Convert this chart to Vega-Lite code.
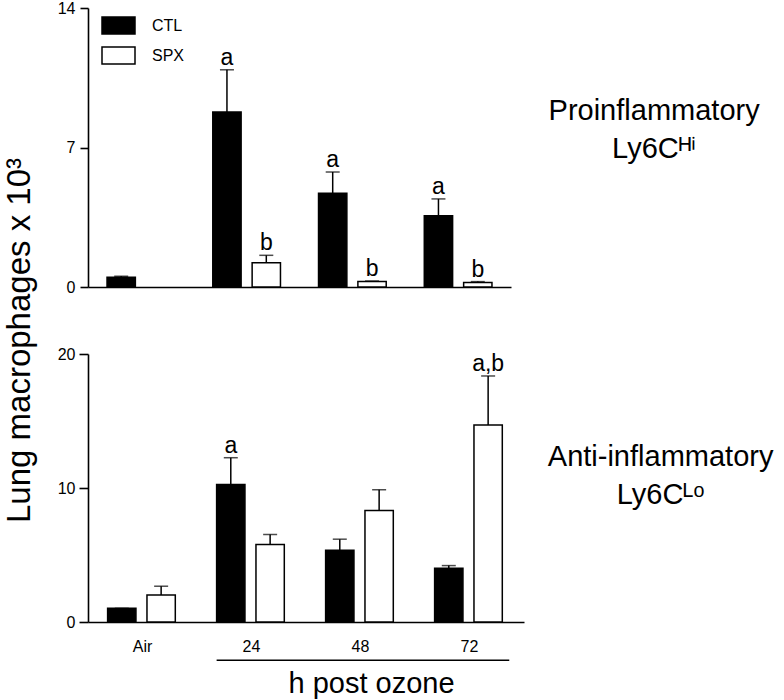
{
  "$schema": "https://vega.github.io/schema/vega-lite/v6.json",
  "background": "white",
  "padding": {"left": 3, "top": 0, "right": 5, "bottom": 5},
  "datasets": {
    "hi": [
      {"time": "Air", "group": "CTL", "mean": 0.49, "upper": 0.54, "letter": ""},
      {"time": "24", "group": "CTL", "mean": 8.78, "upper": 10.9, "letter": "a"},
      {"time": "24", "group": "SPX", "mean": 1.22, "upper": 1.59, "letter": "b"},
      {"time": "48", "group": "CTL", "mean": 4.7, "upper": 5.77, "letter": "a"},
      {"time": "48", "group": "SPX", "mean": 0.27, "upper": 0.3, "letter": "b"},
      {"time": "72", "group": "CTL", "mean": 3.58, "upper": 4.42, "letter": "a"},
      {"time": "72", "group": "SPX", "mean": 0.22, "upper": 0.27, "letter": "b"}
    ],
    "lo": [
      {"time": "Air", "group": "CTL", "mean": 1.02, "upper": 1.02, "letter": ""},
      {"time": "Air", "group": "SPX", "mean": 2.02, "upper": 2.67, "letter": ""},
      {"time": "24", "group": "CTL", "mean": 10.26, "upper": 12.26, "letter": "a"},
      {"time": "24", "group": "SPX", "mean": 5.78, "upper": 6.53, "letter": ""},
      {"time": "48", "group": "CTL", "mean": 5.36, "upper": 6.18, "letter": ""},
      {"time": "48", "group": "SPX", "mean": 8.32, "upper": 9.87, "letter": ""},
      {"time": "72", "group": "CTL", "mean": 4.01, "upper": 4.21, "letter": ""},
      {"time": "72", "group": "SPX", "mean": 14.7, "upper": 18.36, "letter": "a,b"}
    ],
    "bracket": [{"start": "24", "end": "72", "level": -2.85}]
  },
  "config": {
    "view": {"stroke": null},
    "font": "Liberation Sans",
    "axis": {
      "grid": false,
      "domainColor": "black", "domainWidth": 1.6,
      "tickColor": "black", "tickWidth": 1.6,
      "labelColor": "black", "labelFont": "Liberation Sans", "labelFontSize": 16,
      "titleColor": "black", "titleFont": "Liberation Sans", "titleFontWeight": "normal"
    },
    "title": {"color": "black", "font": "Liberation Sans", "fontWeight": "normal"}
  },
  "spacing": 67,
  "bounds": "flush",
  "resolve": {
    "scale": {"color": "independent", "fill": "independent", "x": "independent", "y": "independent"},
    "legend": {"fill": "independent"}
  },
  "vconcat": [
    {
      "width": 423,
      "height": 279,
      "title": {
        "text": ["Proinflammatory", "Ly6Cᴴⁱ"],
        "orient": "right", "angle": 0, "anchor": "middle", "align": "center", "baseline": "middle",
        "fontSize": 29, "lineHeight": 38, "offset": -68, "dy": -37
      },
      "data": {"name": "hi"},
      "layer": [
        {
          "mark": {"type": "bar", "stroke": "black", "strokeWidth": 1.5},
          "encoding": {
            "x": {"field": "time", "type": "nominal", "sort": ["Air", "24", "48", "72"],
              "scale": {"domain": ["Air", "24", "48", "72"], "paddingInner": 0.36, "paddingOuter": 0.18},
              "axis": {"labels": false, "ticks": false, "title": null, "domain": true}},
            "xOffset": {"field": "group", "type": "nominal", "scale": {"domain": ["CTL", "SPX"], "paddingInner": 0.28}},
            "y": {"field": "mean", "type": "quantitative", "scale": {"domain": [0, 14], "nice": false},
              "title": "Lung macrophages x 10³",
              "axis": {"values": [0, 7, 14], "tickSize": 8, "labelPadding": 5, "labelFontSize": 16,
                "titleFontSize": 33, "titleX": -59, "titleY": 332,
                "titleAngle": 270, "titleBaseline": "alphabetic", "titleAlign": "center"}},
            "fill": {"field": "group", "type": "nominal",
              "scale": {"domain": ["CTL", "SPX"], "range": ["black", "white"]},
              "legend": {"title": null, "orient": "none", "legendX": 13, "legendY": 0, "padding": 0,
                "symbolType": "M-1,-0.52H1V0.52H-1Z", "symbolSize": 1089,
                "symbolStrokeColor": "black", "symbolStrokeWidth": 1.5,
                "labelFontSize": 16, "labelFont": "Liberation Sans", "labelColor": "black",
                "labelOffset": 16, "rowPadding": 0}}
          }
        },
        {
          "mark": {"type": "rule", "color": "black", "strokeWidth": 1.5},
          "encoding": {
            "x": {"field": "time", "type": "nominal"},
            "xOffset": {"field": "group", "type": "nominal"},
            "y": {"field": "mean", "type": "quantitative", "title": "Lung macrophages x 10³"},
            "y2": {"field": "upper"}
          }
        },
        {
          "mark": {"type": "tick", "color": "black", "thickness": 1.5, "size": 14},
          "encoding": {
            "x": {"field": "time", "type": "nominal"},
            "xOffset": {"field": "group", "type": "nominal"},
            "y": {"field": "upper", "type": "quantitative", "title": "Lung macrophages x 10³"}
          }
        },
        {
          "mark": {"type": "text", "baseline": "alphabetic", "dy": -5, "fontSize": 23, "color": "black", "font": "Liberation Sans"},
          "encoding": {
            "x": {"field": "time", "type": "nominal"},
            "xOffset": {"field": "group", "type": "nominal"},
            "y": {"field": "upper", "type": "quantitative", "title": "Lung macrophages x 10³"},
            "text": {"field": "letter"}
          }
        }
      ]
    },
    {
      "width": 436,
      "height": 268,
      "title": {
        "text": ["Anti-inflammatory", "Ly6Cᴸᵒ"],
        "orient": "right", "angle": 0, "anchor": "middle", "align": "center", "baseline": "middle",
        "fontSize": 29, "lineHeight": 38, "offset": -89, "dy": -31
      },
      "layer": [
        {
          "data": {"name": "lo"},
          "mark": {"type": "bar", "stroke": "black", "strokeWidth": 1.5},
          "encoding": {
            "x": {"field": "time", "type": "nominal", "sort": ["Air", "24", "48", "72"],
              "scale": {"domain": ["Air", "24", "48", "72"], "paddingInner": 0.36, "paddingOuter": 0.18},
              "title": "h post ozone",
              "axis": {"labels": true, "ticks": false, "labelAngle": 0, "labelPadding": 16, "labelFontSize": 16,
                "titleFontSize": 29, "titleX": 283, "titleY": 70,
                "titleBaseline": "alphabetic", "titleAlign": "center"}},
            "xOffset": {"field": "group", "type": "nominal", "scale": {"domain": ["CTL", "SPX"], "paddingInner": 0.28}},
            "y": {"field": "mean", "type": "quantitative", "scale": {"domain": [0, 20], "nice": false},
              "title": null,
              "axis": {"values": [0, 10, 20], "tickSize": 9, "labelPadding": 4, "labelFontSize": 16}},
            "fill": {"field": "group", "type": "nominal",
              "scale": {"domain": ["CTL", "SPX"], "range": ["black", "white"]},
              "legend": null}
          }
        },
        {
          "data": {"name": "lo"},
          "mark": {"type": "rule", "color": "black", "strokeWidth": 1.5},
          "encoding": {
            "x": {"field": "time", "type": "nominal", "title": "h post ozone"},
            "xOffset": {"field": "group", "type": "nominal"},
            "y": {"field": "mean", "type": "quantitative", "title": null},
            "y2": {"field": "upper"}
          }
        },
        {
          "data": {"name": "lo"},
          "mark": {"type": "tick", "color": "black", "thickness": 1.5, "size": 14},
          "encoding": {
            "x": {"field": "time", "type": "nominal", "title": "h post ozone"},
            "xOffset": {"field": "group", "type": "nominal"},
            "y": {"field": "upper", "type": "quantitative", "title": null}
          }
        },
        {
          "data": {"name": "lo"},
          "mark": {"type": "text", "baseline": "alphabetic", "dy": -5, "fontSize": 23, "color": "black", "font": "Liberation Sans"},
          "encoding": {
            "x": {"field": "time", "type": "nominal", "title": "h post ozone"},
            "xOffset": {"field": "group", "type": "nominal"},
            "y": {"field": "upper", "type": "quantitative", "title": null},
            "text": {"field": "letter"}
          }
        },
        {
          "data": {"name": "bracket"},
          "mark": {"type": "rule", "color": "black", "strokeWidth": 1.6},
          "encoding": {
            "x": {"field": "start", "type": "nominal", "bandPosition": 0, "title": "h post ozone"},
            "x2": {"field": "end", "bandPosition": 1.07},
            "y": {"field": "level", "type": "quantitative", "title": null}
          }
        }
      ]
    }
  ]
}
